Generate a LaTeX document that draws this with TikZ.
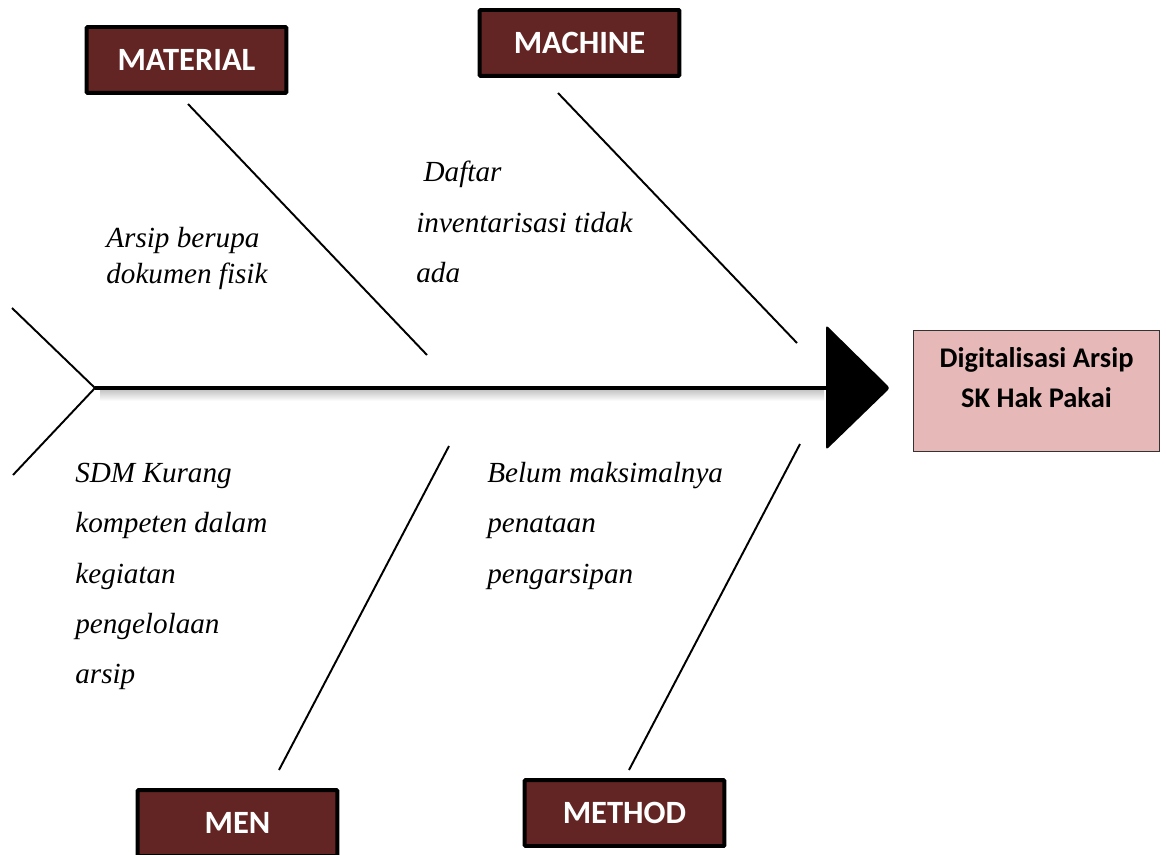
\documentclass[tikz,border=0pt]{standalone}
\usepackage{fontspec}
\setmainfont{Liberation Serif}
\newfontfamily\labelfont{Carlito}
\usetikzlibrary{positioning}

\definecolor{catred}{HTML}{632523}
\definecolor{goalpink}{HTML}{E6B8B7}

\tikzset{
  catbox/.style={draw=black,fill=catred,line width=2.27pt,rounded corners=0.6pt,
    minimum width=4cm,minimum height=1.32cm,inner sep=0pt,
    text=white,font=\labelfont\fontsize{18.5}{20}\selectfont\bfseries},
  cause/.style={anchor=north west,inner sep=0pt,align=left,
    font=\fontsize{16.6}{28.6}\selectfont\itshape},
  bone/.style={line width=1.1pt}
}

\begin{document}
\begin{tikzpicture}[x=0.02cm,y=-0.02cm]
    \useasboundingbox (0,0) rectangle (1166,855);
    \clip (0,0) rectangle (1166,855);

    %Spine
    \coordinate (tail) at (95,388);
    \coordinate (head) at (830,388);
    \coordinate (tailup) at (12,308);
    \coordinate (taildown) at (13,475);
    \shade[top color=gray!45,bottom color=white] (100,390) rectangle (824,401);
    \draw[line width=2.83pt] (tail) -- (head);
    \draw[bone] (tailup) -- (tail) -- (taildown);
    \fill[rounded corners=1.7pt] (826,325) -- (890,388) -- (826,450) -- cycle;

    %Goal
    \node[draw=black!80,fill=goalpink,line width=0.57pt,minimum width=4.92cm,
      minimum height=2.42cm] (goal) at (1036.5,391) {};
    \node[align=center,font=\labelfont\fontsize{16.2}{22.7}\selectfont\bfseries]
      (goaltext) at (1036.5,378) {Digitalisasi Arsip\\SK Hak Pakai};

    %Categories
     \begin{scope}[every node/.style={catbox}]
       \node (material) at (186.5,60) {MATERIAL};
       \node (machine) at (579.5,43) {MACHINE};
       \node (men) at (237.5,823) {MEN};
       \node (method) at (624.5,813) {METHOD};
    \end{scope}

    %Bones
    \coordinate (mat1) at (188,104);
    \coordinate (mat2) at (427,355);
    \coordinate (mac1) at (558,93);
    \coordinate (mac2) at (797,343);
    \coordinate (men1) at (279,770);
    \coordinate (men2) at (449,446);
    \coordinate (met1) at (629,770);
    \coordinate (met2) at (800,444);
    \begin{scope}[every path/.style={bone}]
      \draw (mat1) -- (mat2);
      \draw (mac1) -- (mac2);
      \draw (men1) -- (men2);
      \draw (met1) -- (met2);
    \end{scope}

    %Causes
     \begin{scope}[every node/.style={cause}]
       \node[font=\fontsize{16.6}{20.6}\selectfont\itshape] (arsip) at (106,227)
         {Arsip berupa\\dokumen fisik};
       \node (daftar) at (416,161) {\ Daftar\\inventarisasi tidak\\ada};
       \node (sdm) at (75,463)
         {SDM Kurang\\kompeten dalam\\kegiatan\\pengelolaan\\arsip};
       \node (belum) at (487,462) {Belum maksimalnya\\penataan\\pengarsipan};
    \end{scope}
  \end{tikzpicture}
\end{document}
